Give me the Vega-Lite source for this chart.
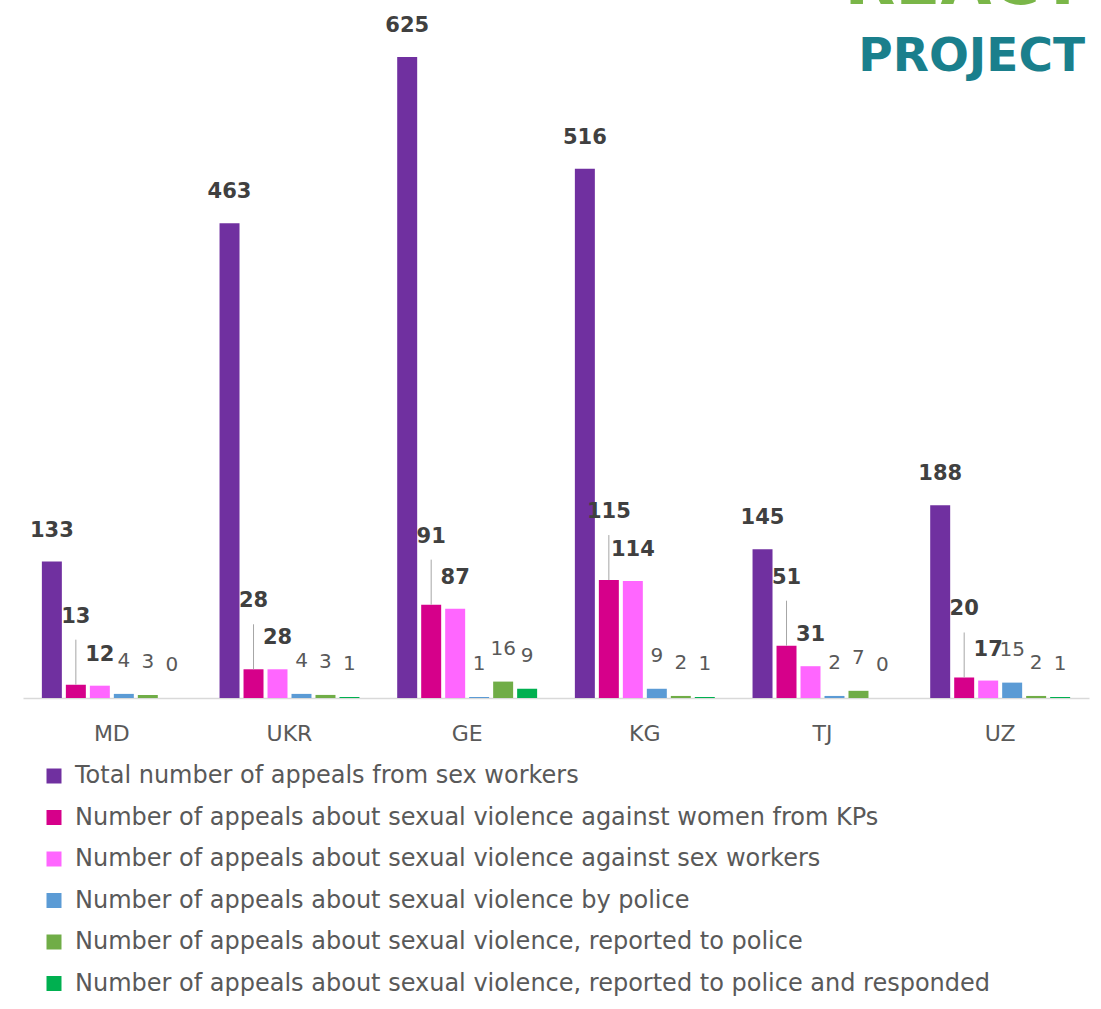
{
  "$schema": "https://vega.github.io/schema/vega-lite/v6.json",
  "autosize": "none",
  "width": 1066,
  "height": 641,
  "padding": {"left": 23, "top": 57, "right": 12, "bottom": 311},
  "background": "white",
  "title": {
    "text": "REACT",
    "subtitle": "PROJECT",
    "anchor": "end",
    "orient": "top",
    "offset": -66,
    "font": "DejaVu Sans",
    "fontSize": 66,
    "fontWeight": "bold",
    "color": "#7AB648",
    "subtitleFont": "DejaVu Sans",
    "subtitleFontSize": 47,
    "subtitleFontWeight": "bold",
    "subtitleColor": "#1A7F8C",
    "subtitlePadding": 16,
    "dx": -4
  },
  "config": {
    "font": "DejaVu Sans",
    "view": {"stroke": null}
  },
  "data": {
    "values": [
      {"country": "MD", "series": "Total number of appeals from sex workers", "value": 133},
      {"country": "MD", "series": "Number of appeals about sexual violence against women from KPs", "value": 13},
      {"country": "MD", "series": "Number of appeals about sexual violence against sex workers", "value": 12},
      {"country": "MD", "series": "Number of appeals about sexual violence by police", "value": 4},
      {"country": "MD", "series": "Number of appeals about sexual violence, reported to police", "value": 3},
      {"country": "MD", "series": "Number of appeals about sexual violence, reported to police and responded", "value": 0},
      {"country": "UKR", "series": "Total number of appeals from sex workers", "value": 463},
      {"country": "UKR", "series": "Number of appeals about sexual violence against women from KPs", "value": 28},
      {"country": "UKR", "series": "Number of appeals about sexual violence against sex workers", "value": 28},
      {"country": "UKR", "series": "Number of appeals about sexual violence by police", "value": 4},
      {"country": "UKR", "series": "Number of appeals about sexual violence, reported to police", "value": 3},
      {"country": "UKR", "series": "Number of appeals about sexual violence, reported to police and responded", "value": 1},
      {"country": "GE", "series": "Total number of appeals from sex workers", "value": 625},
      {"country": "GE", "series": "Number of appeals about sexual violence against women from KPs", "value": 91},
      {"country": "GE", "series": "Number of appeals about sexual violence against sex workers", "value": 87},
      {"country": "GE", "series": "Number of appeals about sexual violence by police", "value": 1},
      {"country": "GE", "series": "Number of appeals about sexual violence, reported to police", "value": 16},
      {"country": "GE", "series": "Number of appeals about sexual violence, reported to police and responded", "value": 9},
      {"country": "KG", "series": "Total number of appeals from sex workers", "value": 516},
      {"country": "KG", "series": "Number of appeals about sexual violence against women from KPs", "value": 115},
      {"country": "KG", "series": "Number of appeals about sexual violence against sex workers", "value": 114},
      {"country": "KG", "series": "Number of appeals about sexual violence by police", "value": 9},
      {"country": "KG", "series": "Number of appeals about sexual violence, reported to police", "value": 2},
      {"country": "KG", "series": "Number of appeals about sexual violence, reported to police and responded", "value": 1},
      {"country": "TJ", "series": "Total number of appeals from sex workers", "value": 145},
      {"country": "TJ", "series": "Number of appeals about sexual violence against women from KPs", "value": 51},
      {"country": "TJ", "series": "Number of appeals about sexual violence against sex workers", "value": 31},
      {"country": "TJ", "series": "Number of appeals about sexual violence by police", "value": 2},
      {"country": "TJ", "series": "Number of appeals about sexual violence, reported to police", "value": 7},
      {"country": "TJ", "series": "Number of appeals about sexual violence, reported to police and responded", "value": 0},
      {"country": "UZ", "series": "Total number of appeals from sex workers", "value": 188},
      {"country": "UZ", "series": "Number of appeals about sexual violence against women from KPs", "value": 20},
      {"country": "UZ", "series": "Number of appeals about sexual violence against sex workers", "value": 17},
      {"country": "UZ", "series": "Number of appeals about sexual violence by police", "value": 15},
      {"country": "UZ", "series": "Number of appeals about sexual violence, reported to police", "value": 2},
      {"country": "UZ", "series": "Number of appeals about sexual violence, reported to police and responded", "value": 1}
    ]
  },
  "encoding": {
    "x": {
      "field": "country",
      "type": "nominal",
      "sort": ["MD", "UKR", "GE", "KG", "TJ", "UZ"],
      "scale": {"paddingInner": 0.19, "paddingOuter": 0.095},
      "axis": {
        "title": null,
        "labelAngle": 0,
        "ticks": false,
        "labelFontSize": 22,
        "labelColor": "#595959",
        "labelPadding": 25,
        "domainColor": "#D9D9D9",
        "domainWidth": 1.5,
        "grid": false
      }
    },
    "xOffset": {
      "field": "series",
      "type": "nominal",
      "sort": [
        "Total number of appeals from sex workers",
        "Number of appeals about sexual violence against women from KPs",
        "Number of appeals about sexual violence against sex workers",
        "Number of appeals about sexual violence by police",
        "Number of appeals about sexual violence, reported to police",
        "Number of appeals about sexual violence, reported to police and responded"
      ],
      "scale": {"paddingInner": 0.167, "paddingOuter": 0.083}
    },
    "y": {
      "field": "value",
      "type": "quantitative",
      "scale": {"domain": [0, 625], "nice": false},
      "axis": null
    }
  },
  "layer": [
    {
      "mark": {"type": "bar"},
      "encoding": {
        "color": {
          "field": "series",
          "type": "nominal",
          "scale": {
            "domain": [
              "Total number of appeals from sex workers",
              "Number of appeals about sexual violence against women from KPs",
              "Number of appeals about sexual violence against sex workers",
              "Number of appeals about sexual violence by police",
              "Number of appeals about sexual violence, reported to police",
              "Number of appeals about sexual violence, reported to police and responded"
            ],
            "range": ["#7030A0", "#D6008A", "#FF66FF", "#5B9BD5", "#70AD47", "#00B050"]
          },
          "legend": {
            "title": null,
            "orient": "none",
            "legendX": 19,
            "legendY": 707,
            "direction": "vertical",
            "symbolType": "square",
            "symbolSize": 225,
            "symbolStrokeWidth": 0,
            "symbolOpacity": 1,
            "labelFontSize": 24,
            "labelColor": "#595959",
            "labelOffset": 9,
            "labelLimit": 1000,
            "rowPadding": 17.5,
            "padding": 0
          }
        }
      }
    },
    {
      "transform": [{"filter": {"field": "series", "oneOf": ["Total number of appeals from sex workers", "Number of appeals about sexual violence against sex workers"]}}],
      "mark": {"type": "text", "baseline": "middle", "dy": -31, "fontSize": 21, "fontWeight": "bold", "color": "#404040"},
      "encoding": {"text": {"field": "value", "type": "quantitative"}}
    },
    {
      "transform": [{"filter": {"field": "series", "equal": "Number of appeals about sexual violence against women from KPs"}}],
      "mark": {"type": "rule", "y2Offset": -45, "color": "#A6A6A6", "strokeWidth": 1},
      "encoding": {"y2": {"field": "value"}}
    },
    {
      "transform": [{"filter": {"field": "series", "equal": "Number of appeals about sexual violence against women from KPs"}}],
      "mark": {"type": "text", "baseline": "middle", "dy": -68, "fontSize": 21, "fontWeight": "bold", "color": "#404040"},
      "encoding": {"text": {"field": "value", "type": "quantitative"}}
    },
    {
      "transform": [{"filter": {"field": "series", "oneOf": ["Number of appeals about sexual violence by police", "Number of appeals about sexual violence, reported to police", "Number of appeals about sexual violence, reported to police and responded"]}}],
      "mark": {"type": "text", "baseline": "middle", "dy": -33, "fontSize": 20, "color": "#595959"},
      "encoding": {"text": {"field": "value", "type": "quantitative"}}
    }
  ]
}
